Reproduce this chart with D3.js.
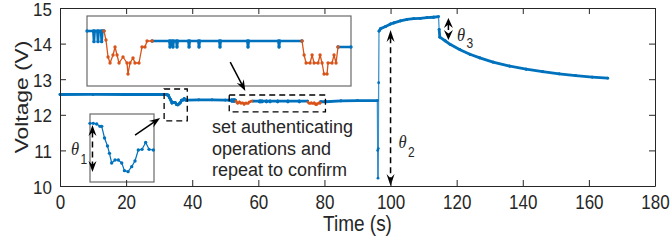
<!DOCTYPE html>
<html lang="en">
<head>
<meta charset="UTF-8">
<title>Voltage vs time</title>
<script src="https://cdn.jsdelivr.net/npm/d3@7"></script>
<style>
    body { margin: 0; background: #fff; }
    svg text { font-family: "Liberation Sans", Arial, Helvetica, sans-serif; fill: #262626; }
    .theta { font-family: "Liberation Serif", "Times New Roman", serif !important; font-style: italic; }
</style>
</head>
<body>
<svg id="chart" width="670" height="241"></svg>
<script>
    // axis ticks
    var xTicks = [0, 20, 40, 60, 80, 100, 120, 140, 160, 180];
    var yTicks = [10, 11, 12, 13, 14, 15];

    // idle battery before the first event
    var idleTime = [0, 10, 20, 30, 31.5];
    var idleVolt = [12.57, 12.572, 12.57, 12.57, 12.57];

    // small dip (shown magnified in lower inset)
    var dipTime = [31.5, 31.86, 32.23, 32.59, 32.78, 33.09, 33.41, 33.63, 33.87, 34.24, 34.6, 34.97, 35.27, 35.66, 36.06, 36.42, 36.78, 37.19, 37.59, 37.96, 38.43];
    var dipVolt = [12.57, 12.57, 12.566, 12.552, 12.552, 12.482, 12.434, 12.39, 12.332, 12.35, 12.35, 12.332, 12.286, 12.28, 12.31, 12.344, 12.41, 12.414, 12.455, 12.414, 12.41];

    var settleTime = [38.43, 42, 46, 50, 51.2];
    var settleVolt = [12.41, 12.42, 12.42, 12.415, 12.415];

    // authentication window (upper inset), null = operation segment
    var authTime = [51.2, 51.9, 51.97, 52.04, 52.34, 52.41, 52.48, 52.75, 52.82, 52.89, 53.07, 55,
        58.37, 60.28, 60.35, 60.42, 60.61, 60.68, 60.75, 61.05, 61.12, 61.19, 62.38, 62.45, 62.52,
        63.48, 63.55, 63.62, 65.79, 65.86, 65.93, 68.88, 68.95, 69.02, 72.3, 72.37, 72.44, 74.9, 77,
        78.87, 80.3];
    var authVolt = [12.415, 12.415, 12.383, 12.415, 12.415, 12.383, 12.415, 12.415, 12.383, 12.415, 12.415, null,
        12.385, 12.385, 12.367, 12.385, 12.385, 12.367, 12.385, 12.385, 12.367, 12.385, 12.385, 12.367, 12.385,
        12.385, 12.367, 12.385, 12.385, 12.367, 12.385, 12.385, 12.367, 12.385, 12.385, 12.367, 12.385, 12.385, null,
        12.367, 12.367];

    // the two authenticating operations
    var op1Time = [53.07, 53.29, 53.52, 53.74, 54.07, 54.29, 54.51, 54.73, 55.17, 55.61, 55.72, 55.94, 56.27, 56.49, 56.93, 57.26, 57.59, 57.82, 58.37];
    var op1Volt = [12.415, 12.388, 12.337, 12.319, 12.343, 12.367, 12.343, 12.319, 12.337, 12.319, 12.286, 12.319, 12.334, 12.319, 12.319, 12.367, 12.367, 12.385, 12.385];
    var op2Time = [74.9, 75.13, 75.35, 75.79, 76.01, 76.23, 76.67, 76.89, 77.11, 77.33, 77.66, 77.77, 78.21, 78.43, 78.65, 78.87];
    var op2Volt = [12.385, 12.343, 12.319, 12.319, 12.343, 12.319, 12.319, 12.343, 12.319, 12.286, 12.286, 12.319, 12.319, 12.343, 12.319, 12.367];

    // engine start, charging and decay
    var chargeTime = [80.3, 85, 90, 96.0, 96.1, 96.2, 96.3, 96.4, 96.5, 97, 98.5, 100, 101, 103, 105, 107, 109, 111, 113, 114.5,
        114.7, 114.9, 116.5, 118, 121, 124, 127, 131, 136, 141, 146, 151, 156, 161, 165.7];
    var chargeVolt = [12.367, 12.39, 12.4, 12.4, 11.0, 10.22, 11.05, 12.9, 14.35, 14.42, 14.48, 14.55, 14.58, 14.64, 14.68, 14.7, 14.71, 14.73, 14.74, 14.76,
        14.4, 14.18, 14.08, 13.98, 13.83, 13.7, 13.6, 13.48, 13.37, 13.28, 13.21, 13.15, 13.1, 13.06, 13.03];

    var BLUE = "#0072BD", ORANGE = "#D95319", AX = "#262626";

    function pts(ts, vs) {
        return ts.map(function (t, i) { return [t, vs[i]]; });
    }

    var svg = d3.select("#chart");
    var x = d3.scaleLinear().domain([0, 180]).range([60, 655]);
    var y = d3.scaleLinear().domain([10, 15]).range([186, 8]);

    function lineFor(sx, sy) {
        return d3.line()
            .defined(function (d) { return d[1] !== null; })
            .x(function (d) { return sx(d[0]); })
            .y(function (d) { return sy(d[1]); });
    }

    function drawSeries(g, data, sx, sy, color, width, r) {
        g.append("path").datum(data)
            .attr("fill", "none").attr("stroke", color).attr("stroke-width", width)
            .attr("stroke-linejoin", "round")
            .attr("d", lineFor(sx, sy));
        if (r > 0) {
            g.append("g").selectAll("circle")
                .data(data.filter(function (d) { return d[1] !== null; }))
                .enter().append("circle")
                .attr("cx", function (d) { return sx(d[0]); })
                .attr("cy", function (d) { return sy(d[1]); })
                .attr("r", r).attr("fill", color);
        }
    }

    // main trace: dense samples look thick, the fast jumps are thin
    function drawMain(g, data, color) {
        var segs = [];
        for (var i = 1; i < data.length; i++) {
            if (data[i - 1][1] !== null && data[i][1] !== null) segs.push([data[i - 1], data[i]]);
        }
        g.append("g").selectAll("line").data(segs).enter().append("line")
            .attr("x1", function (d) { return x(d[0][0]); })
            .attr("y1", function (d) { return y(d[0][1]); })
            .attr("x2", function (d) { return x(d[1][0]); })
            .attr("y2", function (d) { return y(d[1][1]); })
            .attr("stroke", color)
            .attr("stroke-linecap", "round")
            .attr("stroke-width", function (d) {
                return Math.abs(y(d[1][1]) - y(d[0][1])) > 12 ? 1.3 : 2.8;
            })
            .attr("stroke-opacity", function (d) {
                return Math.abs(y(d[1][1]) - y(d[0][1])) > 12 ? 0.75 : 1;
            });
        g.append("g").selectAll("circle")
            .data(data.filter(function (d) { return d[1] !== null; }))
            .enter().append("circle")
            .attr("cx", function (d) { return x(d[0]); })
            .attr("cy", function (d) { return y(d[1]); })
            .attr("r", 1.4).attr("fill", color);
    }

    function arrowHead(g, x1, y1, x2, y2, L, W) {
        var a = Math.atan2(y2 - y1, x2 - x1), ux = Math.cos(a), uy = Math.sin(a);
        var nx = -uy, ny = ux;
        var p = [[x2, y2],
            [x2 - L * ux + W / 2 * nx, y2 - L * uy + W / 2 * ny],
            [x2 - 0.65 * L * ux, y2 - 0.65 * L * uy],
            [x2 - L * ux - W / 2 * nx, y2 - L * uy - W / 2 * ny]];
        g.append("path").attr("d", "M" + p.join("L") + "Z").attr("fill", "#000");
    }

    function arrow(g, x1, y1, x2, y2, opts) {
        var L = opts.L || 10, W = opts.W || 8;
        var len = Math.hypot(x2 - x1, y2 - y1), ux = (x2 - x1) / len, uy = (y2 - y1) / len;
        var s0 = opts.both ? 0.6 * L : 0, s1 = 0.6 * L;
        g.append("line")
            .attr("x1", x1 + ux * s0).attr("y1", y1 + uy * s0)
            .attr("x2", x2 - ux * s1).attr("y2", y2 - uy * s1)
            .attr("stroke", "#000").attr("stroke-width", opts.w || 1.5)
            .attr("stroke-dasharray", opts.dash ? "6,4" : null);
        arrowHead(g, x1, y1, x2, y2, L, W);
        if (opts.both) arrowHead(g, x2, y2, x1, y1, L, W);
    }

    // main series
    var mainData = [].concat(pts(idleTime, idleVolt), pts(dipTime, dipVolt), pts(settleTime, settleVolt),
        pts(authTime, authVolt), pts(chargeTime, chargeVolt));
    var plot = svg.append("g");
    drawMain(plot, mainData, BLUE);
    drawSeries(plot, pts(op1Time, op1Volt), x, y, ORANGE, 2.6, 0);
    drawSeries(plot, pts(op2Time, op2Volt), x, y, ORANGE, 2.6, 0);

    // dashed zoom boxes (data units)
    [[31.5, 38.5, 11.83, 12.725], [51.2, 80.3, 12.08, 12.556]].forEach(function (b) {
        plot.append("rect")
            .attr("x", x(b[0])).attr("y", y(b[3]))
            .attr("width", x(b[1]) - x(b[0])).attr("height", y(b[2]) - y(b[3]))
            .attr("fill", "none").attr("stroke", "#000").attr("stroke-width", 1.3)
            .attr("stroke-dasharray", "6,4");
    });

    // upper inset: authentication window
    var ix1 = d3.scaleLinear().domain([51.2, 80.3]).range([87, 351]);
    var iy1 = d3.scaleLinear().domain([12.25, 12.46]).range([86, 16]);
    var in1 = svg.append("g");
    in1.append("rect").attr("x", 87).attr("y", 16).attr("width", 264).attr("height", 70)
        .attr("fill", "#fff").attr("stroke", "#6a6a6a").attr("stroke-width", 1.2);
    drawSeries(in1, pts(authTime, authVolt), ix1, iy1, BLUE, 2.6, 1.7);
    drawSeries(in1, pts(op1Time, op1Volt), ix1, iy1, ORANGE, 1.3, 1.7);
    drawSeries(in1, pts(op2Time, op2Volt), ix1, iy1, ORANGE, 1.3, 1.7);

    // lower inset: the dip
    var ix2 = d3.scaleLinear().domain([31.5, 38.5]).range([90, 154]);
    var iy2 = d3.scaleLinear().domain([12.218, 12.626]).range([182, 114]);
    var in2 = svg.append("g");
    in2.append("rect").attr("x", 90).attr("y", 114).attr("width", 64).attr("height", 68)
        .attr("fill", "#fff").attr("stroke", "#6a6a6a").attr("stroke-width", 1.2);
    drawSeries(in2, pts(dipTime, dipVolt), ix2, iy2, BLUE, 1.2, 1.7);

    // arrows
    var ann = svg.append("g");
    arrow(ann, x(22.7), y(11.43), x(30.3), y(11.91), {L: 11, W: 8});
    arrow(ann, x(51.5), y(13.48), x(56.06), y(12.67), {L: 11, W: 8});
    arrow(ann, ix2(31.77), iy2(12.56), ix2(31.77), iy2(12.278), {both: true, dash: true, L: 11, W: 8});
    arrow(ann, x(100), y(14.38), x(100), y(10), {both: true, dash: true, L: 12, W: 8});
    arrow(ann, x(117.5), y(14.72), x(117.5), y(14.1), {both: true, dash: true, L: 10, W: 9});

    // text annotations
    function txt(g, tx, ty, s, size, cls, anchor, sy) {
        return g.append("text")
            .attr("transform", "translate(" + tx + "," + ty + ") scale(1," + (sy || 1.2) + ")")
            .attr("class", cls || null)
            .attr("text-anchor", anchor || "start")
            .style("font-size", size + "px")
            .text(s);
    }
    ["set authenticating", "operations and", "repeat to confirm"].forEach(function (s, i) {
        txt(ann, 212, 133 + i * 21.5, s, 18, null, "start", 1);
    });
    txt(ann, 71, 155, "θ", 16.5, "theta");
    txt(ann, 80.5, 164, "1", 12);
    txt(ann, 398.5, 148, "θ", 16.5, "theta");
    txt(ann, 408, 156.5, "2", 12);
    txt(ann, 457, 40.5, "θ", 16.5, "theta");
    txt(ann, 466.5, 47.5, "3", 12);

    // axes (box with inward ticks)
    function styleAxis(g) {
        g.attr("font-size", null).attr("font-family", null);
        g.selectAll("path, line").attr("stroke", AX).attr("stroke-width", 1);
        g.selectAll("text").attr("fill", AX).style("font-size", "17px");
    }
    var gx = svg.append("g").attr("transform", "translate(0,186)")
        .call(d3.axisBottom(x).tickValues(xTicks).tickFormat(d3.format("d"))
            .tickSizeInner(-6).tickSizeOuter(0).tickPadding(7));
    styleAxis(gx);
    gx.selectAll("text").attr("transform", "scale(1,1.2)");
    var gt = svg.append("g").attr("transform", "translate(0,8)")
        .call(d3.axisTop(x).tickValues(xTicks).tickSizeInner(-6).tickSizeOuter(0).tickFormat(""));
    styleAxis(gt);
    var gy = svg.append("g").attr("transform", "translate(60,0)")
        .call(d3.axisLeft(y).tickValues(yTicks).tickFormat(d3.format("d"))
            .tickSizeInner(-6).tickSizeOuter(0).tickPadding(8));
    styleAxis(gy);
    gy.selectAll("text").attr("transform", "scale(1,1.1)").attr("dy", "0.38em");
    var gr = svg.append("g").attr("transform", "translate(655,0)")
        .call(d3.axisRight(y).tickValues(yTicks).tickSizeInner(-6).tickSizeOuter(0).tickFormat(""));
    styleAxis(gr);

    // axis labels
    txt(svg, 357.5, 231, "Time (s)", 19, null, "middle");
    svg.append("text")
        .attr("transform", "translate(28,97) scale(1,1.2) rotate(-90)")
        .attr("text-anchor", "middle")
        .style("font-size", "19px")
        .text("Voltage (V)");
</script>
</body>
</html>
